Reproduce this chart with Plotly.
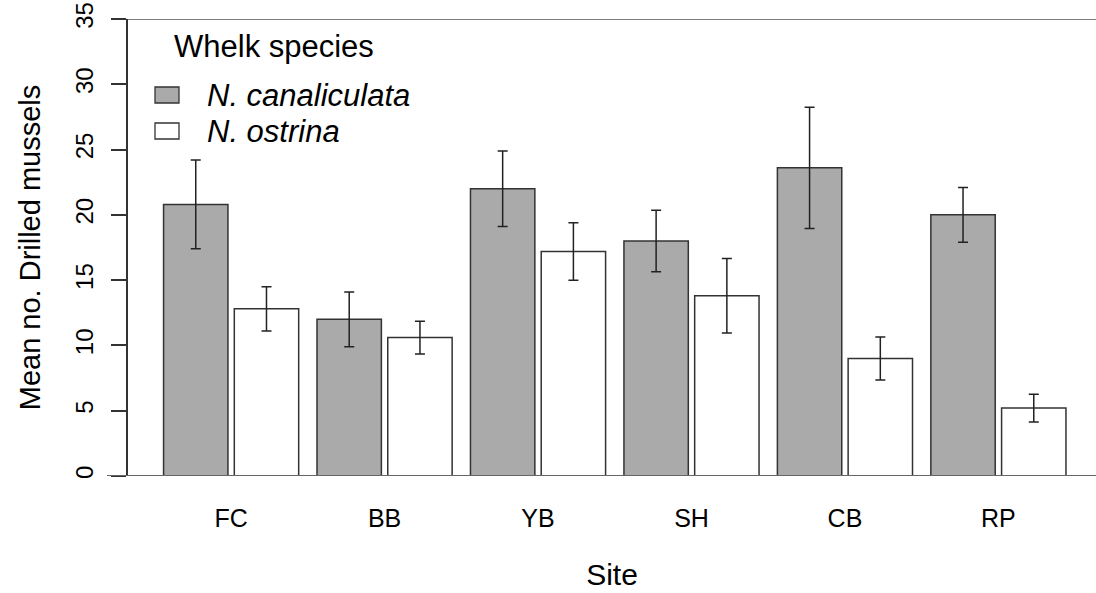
import plotly.graph_objects as go

# data
sites = ['FC', 'BB', 'YB', 'SH', 'CB', 'RP']
canaliculata = [20.8, 12.0, 22.0, 18.0, 23.6, 20.0]
canaliculata_se = [3.4, 2.1, 2.9, 2.35, 4.65, 2.1]
ostrina = [12.8, 10.6, 17.2, 13.8, 9.0, 5.2]
ostrina_se = [1.7, 1.25, 2.2, 2.85, 1.65, 1.07]
species = ['N. canaliculata', 'N. ostrina']

W, H = 1096, 593
L, R, T, B = 128, 0, 19, 117
font = 'Liberation Sans, Arial, sans-serif'
gray = '#aaaaaa'
edge = '#333333'


def px(x):
    return (x - L) / (W - L - R)


def py(y):
    return (H - B - y) / (H - T - B)


fig = go.Figure()
fig.add_trace(go.Bar(x=sites, y=canaliculata, name=species[0],
                     marker=dict(color=gray, line=dict(color=edge, width=1.5)),
                     error_y=dict(type='data', array=canaliculata_se,
                                  color='#222', thickness=1.5, width=5)))
fig.add_trace(go.Bar(x=sites, y=ostrina, name=species[1],
                     marker=dict(color='white', line=dict(color=edge, width=1.5)),
                     error_y=dict(type='data', array=ostrina_se,
                                  color='#222', thickness=1.5, width=5)))

# axis-like lines at 0 and 35
fig.add_shape(type='line', xref='paper', yref='y', x0=px(107), x1=1, y0=0, y1=0,
              line=dict(color='#666', width=2), layer='above')
fig.add_shape(type='line', xref='paper', yref='y', x0=0, x1=1, y0=35, y1=35,
              line=dict(color='#555', width=1.5), layer='above')

# hand-made legend, like R's legend()
fig.add_annotation(text='Whelk species', xref='paper', yref='paper',
                   x=px(172), y=py(46), xanchor='left', yanchor='middle',
                   showarrow=False, font=dict(size=31, color='black', family=font))
for i, (name, fill) in enumerate(zip(species, [gray, 'white'])):
    yc = 95 + 36 * i
    fig.add_shape(type='rect', xref='paper', yref='paper',
                  x0=px(155), x1=px(179), y0=py(yc - 8), y1=py(yc + 8),
                  fillcolor=fill, line=dict(color=edge, width=1.3))
    fig.add_annotation(text='<i>' + name + '</i>', xref='paper', yref='paper',
                       x=px(205), y=py(yc), xanchor='left', yanchor='middle',
                       showarrow=False, font=dict(size=31, color='black', family=font))

fig.update_layout(
    width=W, height=H,
    margin=dict(l=L, r=R, t=T, b=B),
    paper_bgcolor='white', plot_bgcolor='white',
    barmode='group', bargap=0.078, bargroupgap=0.09,
    showlegend=False,
    font=dict(family=font, color='black'),
    xaxis=dict(range=[-0.672, 5.636], showline=False, ticks='', showgrid=False,
               automargin=False,
               tickfont=dict(size=25), ticklabelstandoff=25,
               title=dict(text='Site', font=dict(size=30), standoff=32)),
    yaxis=dict(range=[0, 35], dtick=5, showgrid=False, zeroline=False,
               automargin=False,
               showline=True, linecolor=edge, linewidth=1.5,
               ticks='outside', ticklen=15, tickwidth=1.5, tickcolor=edge,
               tickangle=-90, tickfont=dict(size=24), ticklabelstandoff=9,
               title=dict(text='Mean no. Drilled mussels', font=dict(size=29), standoff=22)),
)

# drop the browser's default body margin so the figure sits at the page corner
fig.write_html('out.html', config={'displayModeBar': False},
               post_script="document.body.style.margin='0';")
